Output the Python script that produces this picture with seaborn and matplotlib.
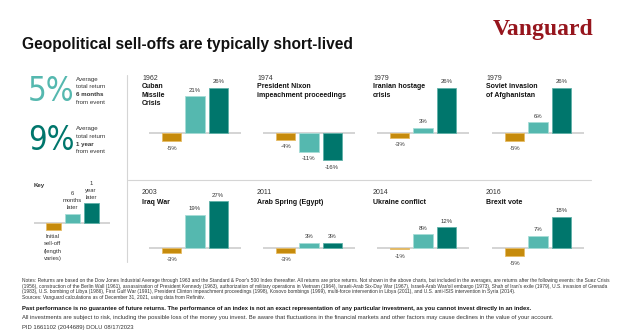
import matplotlib
matplotlib.use("Agg")
import matplotlib.pyplot as plt
import seaborn as sns
import pandas as pd

sns.set_theme(style="white")
plt.rcParams['font.family'] = ['Liberation Sans', 'DejaVu Sans']

# ---- data -------------------------------------------------------------
years = ["1962", "1974", "1979", "1979", "2003", "2011", "2014", "2016"]
events = [
    ["Cuban", "Missile", "Crisis"],
    ["President Nixon", "impeachment proceedings"],
    ["Iranian hostage", "crisis"],
    ["Soviet invasion", "of Afghanistan"],
    ["Iraq War"],
    ["Arab Spring (Egypt)"],
    ["Ukraine conflict"],
    ["Brexit vote"],
]
sell_off = [-5, -4, -3, -5, -3, -3, -1, -5]
six_months = [21, -11, 3, 6, 19, 3, 8, 7]
one_year = [26, -16, 26, 26, 27, 3, 12, 18]
periods = ["Initial sell-off", "6 months later", "1 year later"]
key_values = [-4, 5.5, 11.5]
avg_returns = ["5%", "9%"]
avg_horizons = ["6 months", "1 year"]

ORANGE, LIGHT, DARK = "#C68B0C", "#55B8AF", "#00766C"
EDGES = ["#E6BC66", "#A6DDD7", "#5FB1A8"]
palette = dict(zip(periods, [ORANGE, LIGHT, DARK]))
GRAY_LINE = "#C9C9C9"
TXT = "#222222"

W, H = 624, 334
fig = plt.figure(figsize=(W / 100, H / 100), dpi=100)
fig.patch.set_facecolor("white")


def fx(x):
    return x / W


def fy(y):
    return 1 - y / H


def txt(x, y, s, **kw):
    kw.setdefault("va", "center")
    kw.setdefault("color", TXT)
    fig.text(fx(x), fy(y), s, **kw)


# ---- header -------------------------------------------------------------
txt(22, 45, "Geopolitical sell-offs are typically short-lived",
    fontsize=11.2, fontweight="bold", color="#111111")
txt(493, 29, "Vanguard", fontsize=17, fontweight="bold",
    family=["Liberation Serif", "DejaVu Serif"], color="#96151D")

# ---- averages on the left ----------------------------------------------
for i, (val, hz, col) in enumerate(zip(avg_returns, avg_horizons, [LIGHT, DARK])):
    y0 = 90.5 + i * 49.5
    txt(28, y0 + 1, val, fontsize=23.5, color=col, family=["DejaVu Sans"],
        fontstretch="condensed")
    lines = ["Average", "total return", hz, "from event"]
    for j, ln in enumerate(lines):
        txt(76, y0 - 11.5 + j * 7.8, ln, fontsize=4.4,
            fontweight="bold" if j == 2 else "normal", color="#333333")

# dividers
fig.add_artist(plt.Line2D([fx(127), fx(127)], [fy(75), fy(262)],
                          color="#D5D5D5", lw=0.8))
fig.add_artist(plt.Line2D([fx(128), fx(591)], [fy(180), fy(180)],
                          color="#D5D5D5", lw=0.8))

K = 1.73  # pixels per percentage point
YLO, YHI = -20, 30


def bar_axes(x0, width, base):
    return fig.add_axes([fx(x0), fy(base - YLO * K), width / W, (YHI - YLO) * K / H])


def draw_bars(ax, values, bar_width, xlim):
    df = pd.DataFrame({"period": periods, "value": values})
    ax.axhline(0, color=GRAY_LINE, lw=1.1, zorder=0)
    sns.barplot(data=df, x="period", y="value", hue="period", order=periods,
                hue_order=periods, palette=palette, saturation=1, legend=False,
                width=bar_width, ax=ax, zorder=2)
    for p, ec in zip(ax.patches, EDGES):
        p.set_edgecolor(ec)
        p.set_linewidth(0.6)
    ax.set_xlim(*xlim)
    ax.set_ylim(YLO, YHI)
    ax.axis("off")


# ---- key -----------------------------------------------------------------
key_ax = bar_axes(34, 76, 223.3)
draw_bars(key_ax, key_values, 0.79, (-1.01, 2.99))
txt(34, 185, "Key", fontsize=4.4, fontweight="bold", color="#333333")
for j, ln in enumerate(["1", "year", "later"]):
    txt(91, 183.3 + j * 7.2, ln, fontsize=4.2, ha="center", color="#333333")
for j, ln in enumerate(["6", "months", "later"]):
    txt(72, 193.3 + j * 7.2, ln, fontsize=4.2, ha="center", color="#333333")
for j, ln in enumerate(["Initial", "sell-off", "(length", "varies)"]):
    txt(52.7, 236.7 + j * 7.2, ln, fontsize=4.2, ha="center", color="#333333")

# ---- event panels ------------------------------------------------------
col_x = [149, 263, 377, 492]
title_x = [142, 257, 373, 486]
row_base = [132.7, 247.7]
row_year_y = [78, 193]

for i in range(8):
    r, c = divmod(i, 4)
    ax = bar_axes(col_x[c], 92, row_base[r])
    vals = [sell_off[i], six_months[i], one_year[i]]
    draw_bars(ax, vals, 0.82, (-0.98, 2.98))
    for p, v in zip(ax.patches, vals):
        xc = p.get_x() + p.get_width() / 2
        off = 4.2 if v >= 0 else -4.8
        ax.annotate(f"{v}%", (xc, v), xytext=(0, off), textcoords="offset points",
                    ha="center", va="center", fontsize=4.3, color="#333333",
                    annotation_clip=False)
    txt(title_x[c], row_year_y[r], years[i], fontsize=5, color="#333333")
    for j, ln in enumerate(events[i]):
        txt(title_x[c], row_year_y[r] + 9 + j * 8, ln, fontsize=5,
            fontweight="bold", color="#111111")

# ---- footer --------------------------------------------------------------
notes = [
    "Notes: Returns are based on the Dow Jones Industrial Average through 1963 and the Standard & Poor's 500 Index thereafter. "
    "All returns are price returns. Not shown in the above charts, but included in the averages, are returns after the following events: the Suez Crisis",
    "(1956), construction of the Berlin Wall (1961), assassination of President Kennedy (1963), authorization of military operations in Vietnam (1964), "
    "Israeli-Arab Six-Day War (1967), Israeli-Arab War/oil embargo (1973), Shah of Iran's exile (1979), U.S. invasion of Grenada",
    "(1983), U.S. bombing of Libya (1986), First Gulf War (1991), President Clinton impeachment proceedings (1998), Kosovo bombings (1999), "
    "multi-force intervention in Libya (2011), and U.S. anti-ISIS intervention in Syria (2014).",
    "Sources: Vanguard calculations as of December 31, 2021, using data from Refinitiv.",
]
for j, ln in enumerate(notes):
    txt(22, 280.5 + j * 5.7, ln, fontsize=3.5, color="#333333")
txt(22, 308.5, "Past performance is no guarantee of future returns. The performance of an index is not an exact "
    "representation of any particular investment, as you cannot invest directly in an index.",
    fontsize=4.2, fontweight="bold", color="#111111")
txt(22, 318, "All investments are subject to risk, including the possible loss of the money you invest. Be aware that "
    "fluctuations in the financial markets and other factors may cause declines in the value of your account.",
    fontsize=4.2, color="#333333")
txt(22, 327, "PID 1661102 (2044689) DOLU 08/17/2023", fontsize=4.2, color="#333333")

fig.savefig("out.png", dpi=100, facecolor="white")
